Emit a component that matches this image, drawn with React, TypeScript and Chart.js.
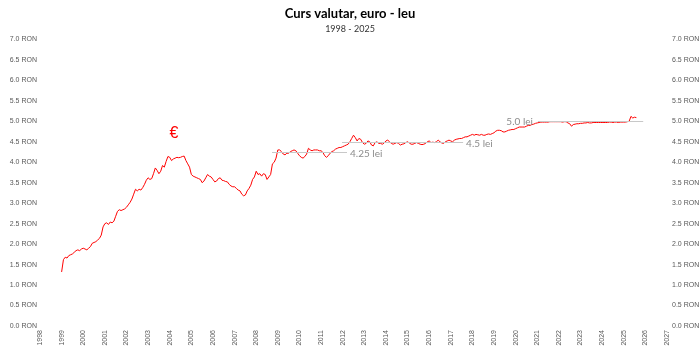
import React, { useEffect, useRef } from "react";
import { Chart, registerables } from "chart.js";

Chart.register(...registerables);

const TITLE = "Curs valutar, euro - leu";
const SUBTITLE = "1998 - 2025";
const START_YEAR = 1999;

// Monthly EUR/RON rate, starting January 1999
const rate1999_2004 = [
  1.32, 1.62, 1.68, 1.66, 1.72, 1.74, 1.76, 1.80, 1.84, 1.86, 1.84, 1.88,
  1.90, 1.88, 1.86, 1.90, 1.94, 2.02, 2.04, 2.06, 2.10, 2.14, 2.22, 2.42,
  2.50, 2.52, 2.48, 2.54, 2.52, 2.56, 2.68, 2.80, 2.84, 2.82, 2.84, 2.86,
  2.90, 2.96, 3.02, 3.10, 3.22, 3.34, 3.30, 3.34, 3.32, 3.38, 3.46, 3.56,
  3.62, 3.58, 3.60, 3.72, 3.86, 3.80, 3.72, 3.78, 3.92, 3.88, 4.02, 4.14,
  4.12, 4.04, 4.08, 4.10, 4.12, 4.11, 4.12, 4.14, 4.15, 4.04, 3.96, 3.88,
];
const rate2005_2010 = [
  3.70, 3.66, 3.64, 3.62, 3.60, 3.58, 3.50, 3.54, 3.62, 3.70, 3.66, 3.64,
  3.58, 3.52, 3.54, 3.60, 3.62, 3.56, 3.55, 3.53, 3.52, 3.46, 3.42, 3.40,
  3.40, 3.36, 3.32, 3.30, 3.22, 3.18, 3.20, 3.30, 3.36, 3.44, 3.58, 3.64,
  3.78, 3.70, 3.72, 3.66, 3.72, 3.70, 3.58, 3.64, 3.70, 3.96, 4.00, 4.10,
  4.30, 4.30, 4.26, 4.20, 4.18, 4.22, 4.22, 4.26, 4.28, 4.30, 4.28, 4.22,
  4.16, 4.12, 4.10, 4.14, 4.20, 4.34, 4.30, 4.28, 4.30, 4.30, 4.30, 4.28,
];
const rate2011_2016 = [
  4.28, 4.24, 4.16, 4.12, 4.16, 4.22, 4.26, 4.28, 4.32, 4.34, 4.36, 4.36,
  4.38, 4.40, 4.42, 4.44, 4.50, 4.58, 4.66, 4.60, 4.52, 4.58, 4.56, 4.48,
  4.44, 4.46, 4.52, 4.50, 4.42, 4.40, 4.48, 4.50, 4.46, 4.46, 4.44, 4.47,
  4.52, 4.54, 4.50, 4.46, 4.44, 4.46, 4.48, 4.46, 4.42, 4.44, 4.45, 4.48,
  4.50, 4.47, 4.44, 4.44, 4.46, 4.48, 4.46, 4.44, 4.43, 4.44, 4.46, 4.50,
  4.52, 4.48, 4.49, 4.48, 4.50, 4.54, 4.50, 4.47, 4.46, 4.50, 4.52, 4.54,
];
const rate2017_2025 = [
  4.52, 4.50, 4.54, 4.56, 4.57, 4.58, 4.58, 4.60, 4.62, 4.62, 4.64, 4.66,
  4.68, 4.66, 4.68, 4.67, 4.66, 4.68, 4.66, 4.66, 4.68, 4.69, 4.68, 4.70,
  4.72, 4.76, 4.78, 4.78, 4.77, 4.74, 4.74, 4.76, 4.78, 4.79, 4.80, 4.80,
  4.82, 4.84, 4.86, 4.86, 4.86, 4.86, 4.88, 4.90, 4.90, 4.92, 4.93, 4.95,
  4.96, 4.97, 4.98, 4.98, 4.98, 4.98, 4.98, 4.99, 4.99, 4.99, 4.99, 4.99,
  4.99, 4.99, 4.98, 4.99, 4.99, 4.96, 4.94, 4.88, 4.92, 4.93, 4.94, 4.94,
  4.95, 4.95, 4.96, 4.96, 4.97, 4.96, 4.96, 4.97, 4.97, 4.97, 4.97, 4.97,
  4.97, 4.97, 4.97, 4.97, 4.98, 4.98, 4.97, 4.98, 4.98, 4.97, 4.98, 4.98,
  4.98, 4.98, 4.99, 5.00, 5.12, 5.08, 5.10, 5.09,
];

// Reference levels
const levelValues = [4.25, 4.5, 5.0];
const levelFrom = [2008.73, 2011.97, 2021.03];
const levelTo = [2012.2, 2017.57, 2025.9];
const levelLabels = ["4.25 lei", "4.5 lei", "5.0 lei"];
const levelLabelSide = ["right", "right", "left"];

const euroMark = { x: 2004.2, y: 4.71, text: "€" };

const X_MIN = 1998;
const X_MAX = 2027;
const Y_MIN = 0;
const Y_MAX = 7;

export default function App() {
  const ref = useRef<HTMLCanvasElement | null>(null);

  useEffect(() => {
    document.body.style.margin = "0";
    const all = [...rate1999_2004, ...rate2005_2010, ...rate2011_2016, ...rate2017_2025];
    const points = all.map((v, i) => ({ x: START_YEAR + i / 12, y: v }));

    const annot = {
      id: "levels",
      afterDatasetsDraw(chart: any) {
        const { ctx, scales } = chart;
        const xs = scales.x;
        const ys = scales.y;
        ctx.save();
        levelValues.forEach((lv, i) => {
          const y = Math.round(ys.getPixelForValue(lv)) + 0.5;
          const x1 = xs.getPixelForValue(levelFrom[i]);
          const x2 = xs.getPixelForValue(levelTo[i]);
          ctx.strokeStyle = "#c8c8c8";
          ctx.lineWidth = 1;
          ctx.beginPath();
          ctx.moveTo(x1, y);
          ctx.lineTo(x2, y);
          ctx.stroke();
          ctx.fillStyle = "#8c8c8c";
          ctx.font = "10px Lato";
          ctx.textBaseline = "middle";
          if (levelLabelSide[i] === "right") {
            ctx.textAlign = "left";
            ctx.fillText(levelLabels[i], x2 + 3, y + 1);
          } else {
            ctx.textAlign = "right";
            ctx.fillText(levelLabels[i], x1 - 5, y);
          }
        });
        ctx.fillStyle = "#ff0000";
        ctx.font = "16px 'Liberation Sans'";
        ctx.textAlign = "center";
        ctx.textBaseline = "middle";
        ctx.fillText(euroMark.text, xs.getPixelForValue(euroMark.x), ys.getPixelForValue(euroMark.y));
        ctx.restore();
      },
    };

    const tickFont = { family: "'Liberation Sans', Arial", size: 7 };
    const yTicks = {
      stepSize: 0.5,
      color: "#595959",
      font: tickFont,
      callback: (v: any) => Number(v).toFixed(1) + " RON",
    };

    const chart = new Chart(ref.current as HTMLCanvasElement, {
      type: "line",
      data: {
        datasets: [
          {
            data: points,
            borderColor: "#ff0000",
            borderWidth: 1,
            pointRadius: 0,
            tension: 0,
            fill: false,
          },
        ],
      },
      options: {
        animation: false,
        responsive: false,
        maintainAspectRatio: false,
        layout: { padding: { left: 0, right: 0, top: 0, bottom: 0 } },
        plugins: {
          legend: { display: false },
          tooltip: { enabled: false },
          title: {
            display: true,
            text: TITLE,
            color: "#000",
            font: { family: "Lato", size: 13, weight: "bold" },
            padding: { top: 6, bottom: 2 },
          },
          subtitle: {
            display: true,
            text: SUBTITLE,
            color: "#333",
            font: { family: "Lato", size: 9 },
            padding: { top: 0, bottom: 5 },
          },
        },
        scales: {
          x: {
            type: "linear",
            min: X_MIN,
            max: X_MAX,
            grid: { display: false, drawTicks: false },
            border: { display: false },
            ticks: {
              stepSize: 1,
              autoSkip: false,
              minRotation: 90,
              maxRotation: 90,
              color: "#595959",
              font: tickFont,
              padding: 4,
              callback: (v: any) => String(v),
            },
            afterFit: (s: any) => {
              s.height = 26;
            },
          },
          y: {
            position: "left",
            min: Y_MIN,
            max: Y_MAX,
            grid: { display: false, drawTicks: false },
            border: { display: false },
            ticks: { ...yTicks, padding: 3 },
            afterFit: (s: any) => {
              s.width = 40;
            },
          },
          y2: {
            position: "right",
            min: Y_MIN,
            max: Y_MAX,
            grid: { display: false, drawTicks: false },
            border: { display: false },
            ticks: { ...yTicks, padding: 5 },
            afterFit: (s: any) => {
              s.width = 33;
            },
          },
        },
      } as any,
      plugins: [annot],
    });
    return () => chart.destroy();
  }, []);

  return (
    <div style={{ width: 700, height: 352, background: "#fff" }}>
      <canvas ref={ref} width={700} height={352} style={{ display: "block" }} />
    </div>
  );
}
